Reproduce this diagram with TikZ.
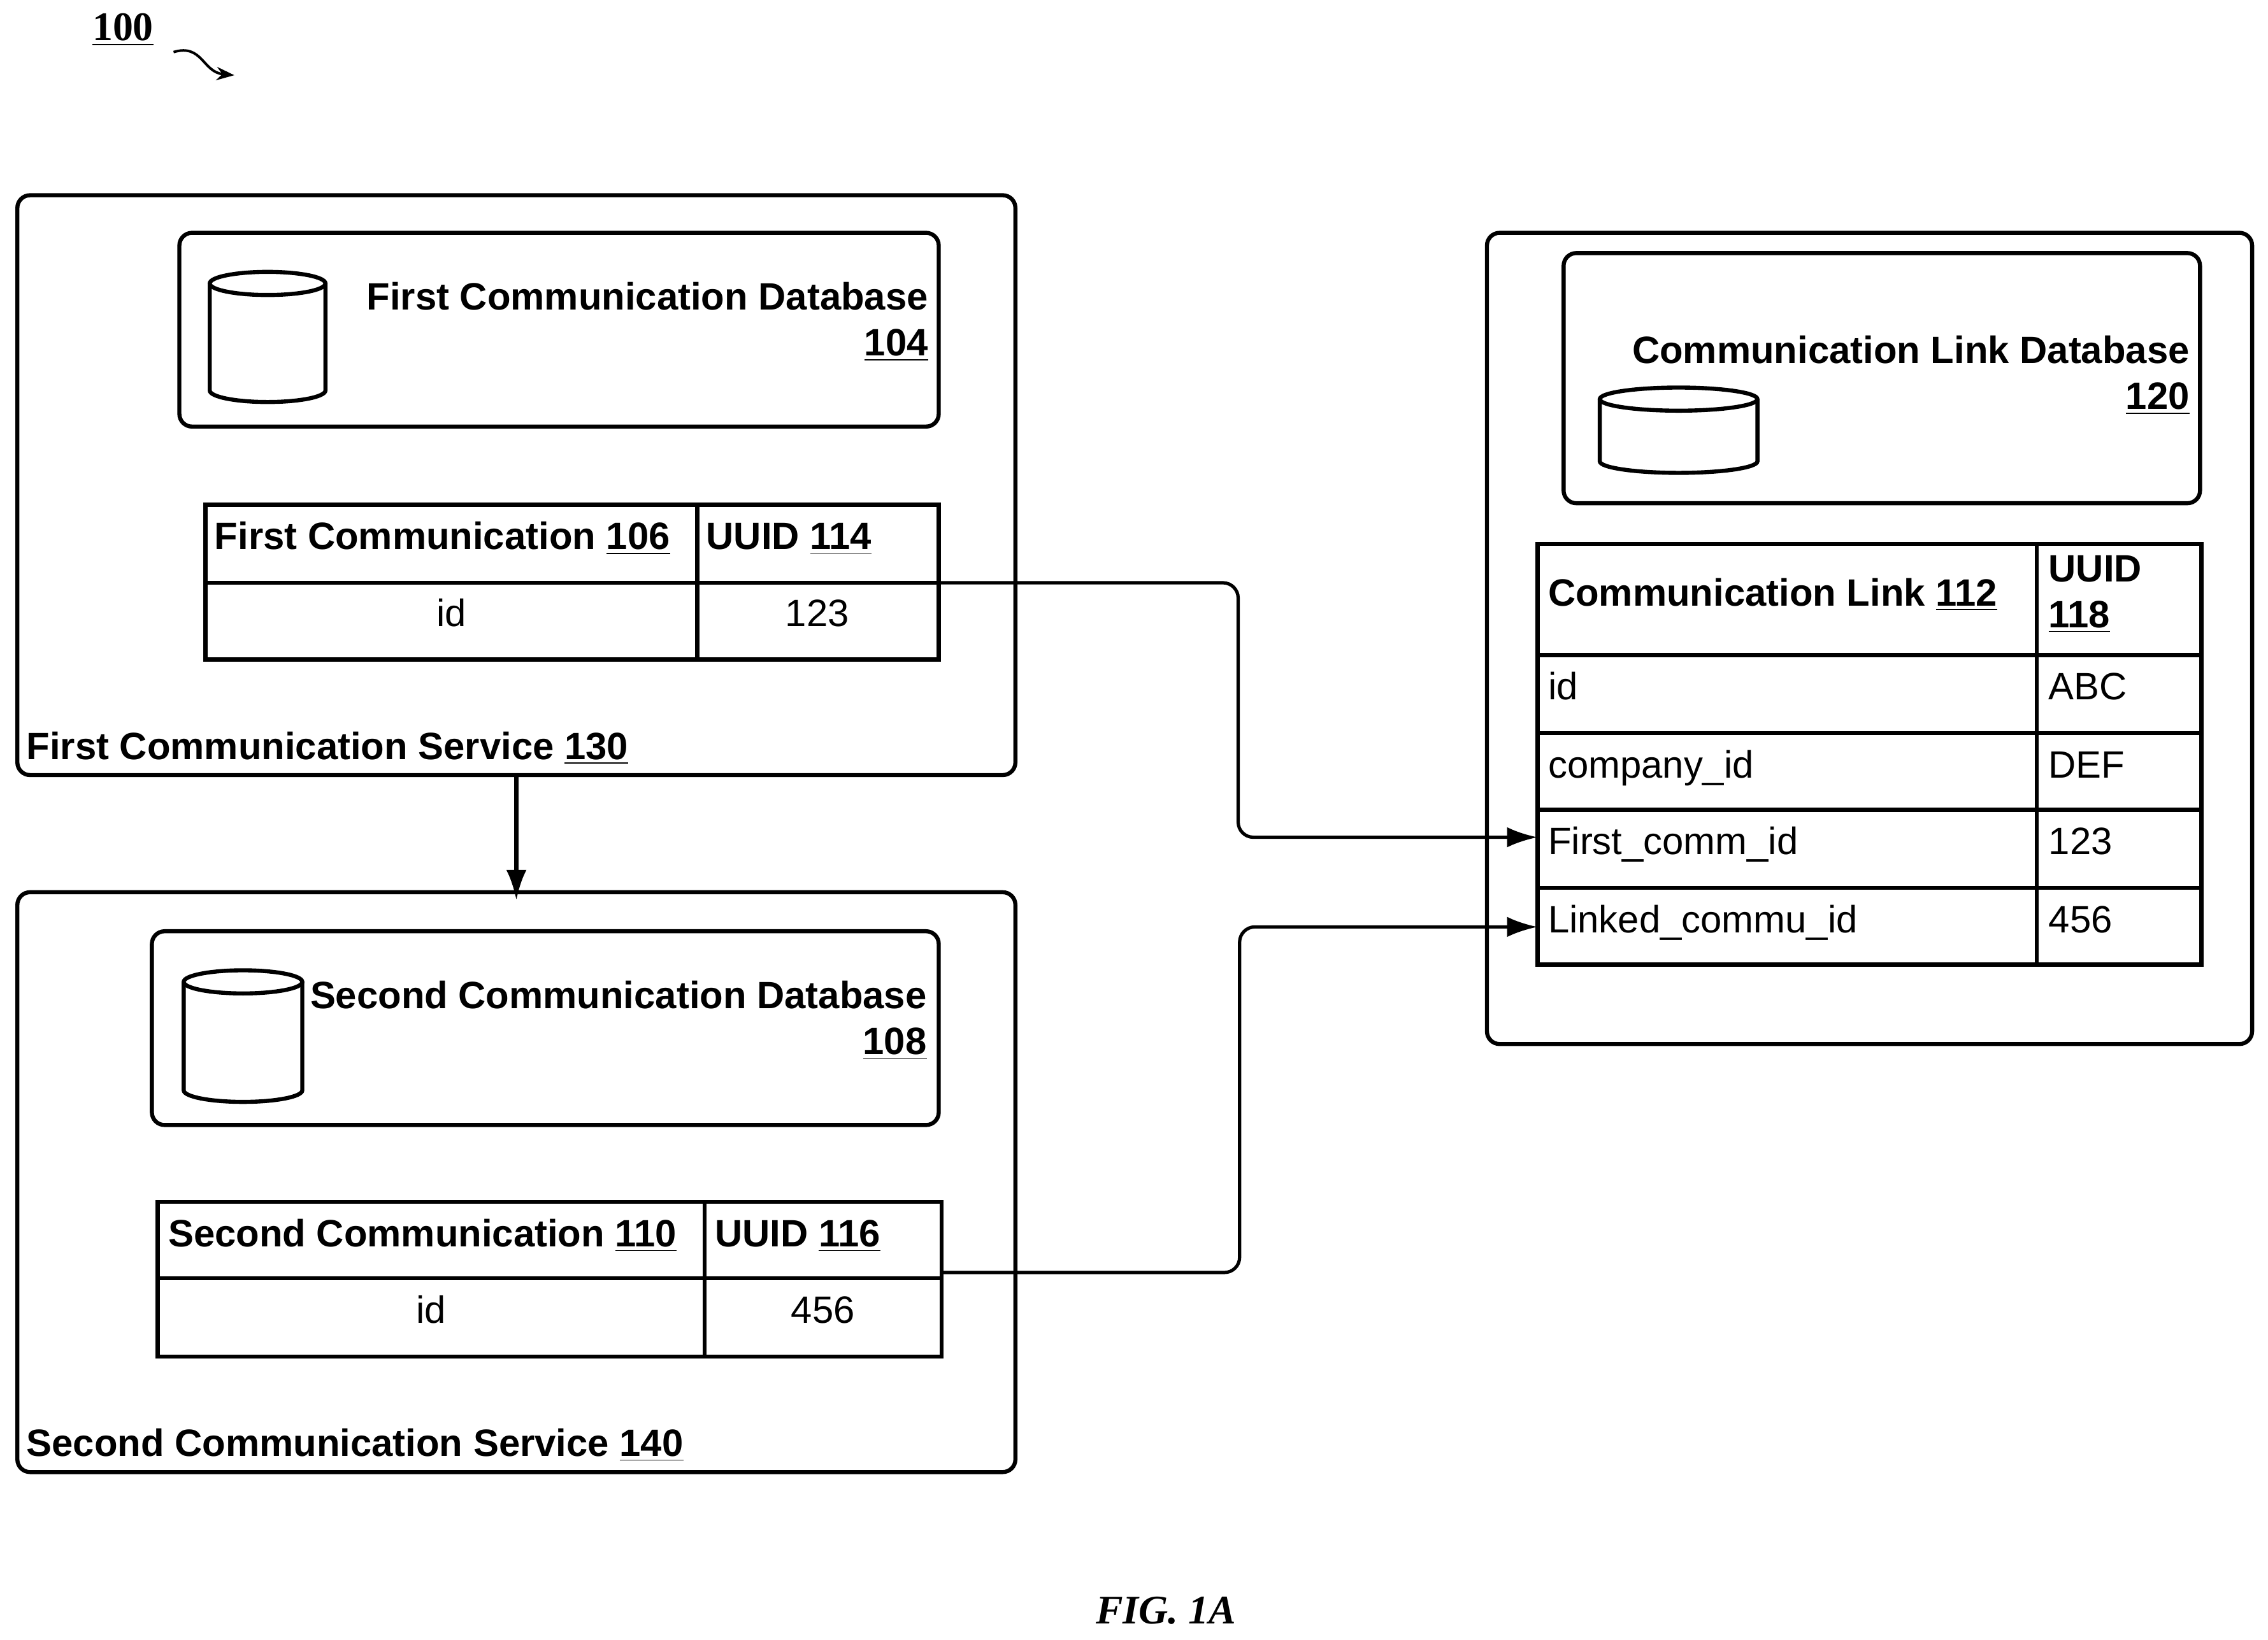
\documentclass[tikz,border=0pt]{standalone}
\usepackage{fontspec}
\setsansfont{Liberation Sans}
\newfontfamily\serifx{Liberation Serif}
\usetikzlibrary{arrows.meta,fit}
\begin{document}
\begin{tikzpicture}[x=0.02cm,y=-0.02cm,
  box/.style={draw,line width=1.6pt,rounded corners=5pt,inner sep=0pt},
  cell/.style={draw,line width=1.6pt},
  t/.style={font=\sffamily\bfseries\fontsize{15}{18}\selectfont,inner sep=0pt},
  r/.style={font=\sffamily\fontsize{15}{18}\selectfont,inner sep=0pt},
  conn/.style={line width=1.3pt,rounded corners=6pt},
  arr/.style={-{Latex[length=12pt,width=8pt]}}]
\useasboundingbox (0,0) rectangle (1568,1134);
\newcommand{\cyl}[4]{% x1,x2,ytop,ybottom
  \pgfmathsetmacro{\rx}{(#2-#1)/2}
  \draw[line width=1.6pt,fill=white] (#1,#3) -- (#1,#4) arc[start angle=180,end angle=0,x radius=\rx,y radius=8] -- (#2,#3);
  \draw[line width=1.6pt] ({(#1+#2)/2},#3) ellipse[x radius=\rx,y radius=8];}
% title
\node[font=\serifx\bfseries\fontsize{16}{18}\selectfont,anchor=base] (n100) at (85,28) {\underline{100}};
\coordinate (tip) at (162,52);
\draw[line width=1pt,-{Stealth[length=7pt]}] (120,36) .. controls (140,30) and (140,50) .. (tip);
% service 130
\coordinate (a1) at (12,135); \coordinate (a2) at (702,536);
\node[box,fit=(a1)(a2)] (s130) {};
\node[t,anchor=base west] (l130) at (18,525) {First Communication Service \underline{130}};
\coordinate (b1) at (124,161); \coordinate (b2) at (649,295);
\node[box,fit=(b1)(b2)] (d104) {};
\cyl{145}{225}{196}{270}
\node[t,anchor=base east,align=right] (t104) at (642,246) {First Communication Database\\\underline{104}};
\draw[cell] (142,349) rectangle (649,456); \draw[cell] (142,403) -- (649,403); \draw[cell] (482,349) -- (482,456);
\node[t,anchor=base west] (h106) at (148,380) {First Communication \underline{106}};
\node[t,anchor=base west] (u114) at (488,380) {UUID \underline{114}};
\node[r,anchor=base] (id1) at (312,433) {id};
\node[r,anchor=base] (v123) at (565,433) {123};
\coordinate (o1) at (649,403);
% service 140
\coordinate (e1) at (12,617); \coordinate (e2) at (702,1018);
\node[box,fit=(e1)(e2)] (s140) {};
\node[t,anchor=base west] (l140) at (18,1007) {Second Communication Service \underline{140}};
\coordinate (f1) at (105,644); \coordinate (f2) at (649,778);
\node[box,fit=(f1)(f2)] (d108) {};
\cyl{127}{209}{679}{754}
\node[t,anchor=base east,align=right] (t108) at (641,729) {Second Communication Database\\\underline{108}};
\draw[cell] (109,831) rectangle (651,938); \draw[cell] (109,884) -- (651,884); \draw[cell] (487,831) -- (487,938);
\node[t,anchor=base west] (h110) at (116,862) {Second Communication \underline{110}};
\node[t,anchor=base west] (u116) at (494,862) {UUID \underline{116}};
\node[r,anchor=base] (id2) at (298,915) {id};
\node[r,anchor=base] (v456) at (569,915) {456};
\coordinate (o2) at (651,880);
\draw[line width=1.6pt,arr] (s130.south) -- ([yshift=-4pt]s140.north);
% service 120
\coordinate (g1) at (1028,161); \coordinate (g2) at (1557,722);
\node[box,fit=(g1)(g2)] (s120) {};
\coordinate (h1) at (1081,175); \coordinate (h2) at (1521,348);
\node[box,fit=(h1)(h2)] (d120) {};
\cyl{1106}{1215}{276}{319}
\node[t,anchor=base east,align=right] (t120) at (1514,283) {Communication Link Database\\\underline{120}};
\draw[cell] (1063,376) rectangle (1522,667);
\foreach \yy in {453,507,560,614} \draw[cell] (1063,\yy) -- (1522,\yy);
\draw[cell] (1408,376) -- (1408,667);
\node[t,anchor=base west] (h112) at (1070,419) {Communication Link \underline{112}};
\node[t,anchor=base west,align=left] (u118) at (1416,434) {UUID\\\underline{118}};
\node[r,anchor=base west] (c1) at (1070,484) {id};
\node[r,anchor=base west] (c2) at (1416,484) {ABC};
\node[r,anchor=base west] (c3) at (1070,538) {company\_id};
\node[r,anchor=base west] (c4) at (1416,538) {DEF};
\node[r,anchor=base west] (c5) at (1070,591) {First\_comm\_id};
\node[r,anchor=base west] (c6) at (1416,591) {123};
\node[r,anchor=base west] (c7) at (1070,645) {Linked\_commu\_id};
\node[r,anchor=base west] (c8) at (1416,645) {456};
\coordinate (i1) at (1063,579);
\coordinate (i2) at (1063,641);
\draw[conn,arr] (o1) -- (856,403) -- (856,579) -- (i1);
\draw[conn,arr] (o2) -- (857,880) -- (857,641) -- (i2);
\node[font=\serifx\bfseries\itshape\fontsize{16}{18}\selectfont,anchor=base] (fig) at (806,1123) {FIG. 1A};
\end{tikzpicture}
\end{document}
